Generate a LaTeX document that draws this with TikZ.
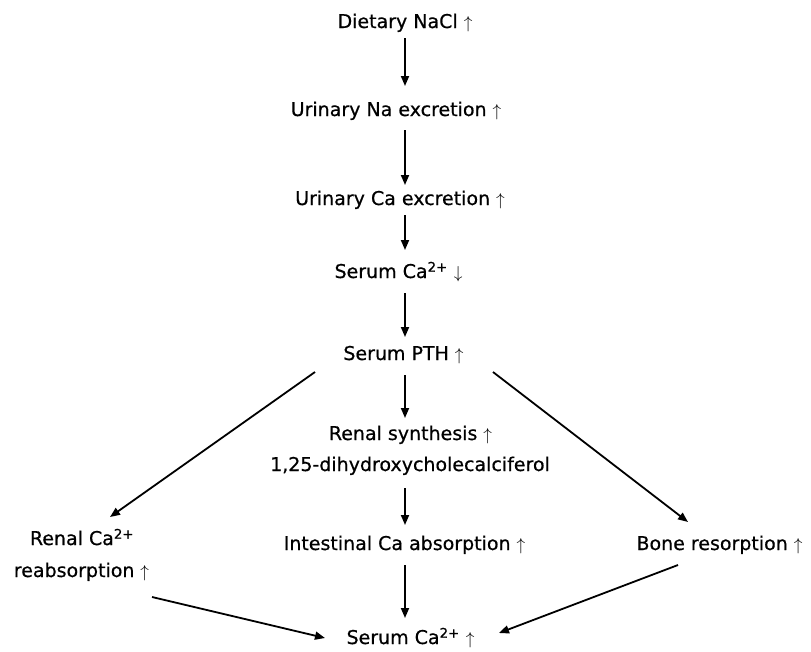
\documentclass[tikz,border=0pt]{standalone}
\usepackage{fontspec}
\setmainfont{DejaVu Sans}[FakeBold=0.6]
\usetikzlibrary{arrows.meta,calc}
\begin{document}
\begin{tikzpicture}[x=1pt,y=-1pt]
\tikzset{
  lbl/.style={inner sep=0pt, anchor=base, font=\fontsize{19}{23}\selectfont},
  arr/.style={line width=1.8pt, -{Triangle[length=10pt,width=8pt]}}
}
\useasboundingbox (0,0) rectangle (811,651);
\coordinate (ax) at (405,0);
\node[lbl] (n1) at (405,28) {Dietary NaCl $\uparrow$};
\node[lbl] (n2) at (396,116) {Urinary Na excretion $\uparrow$};
\node[lbl] (n3) at (400,205) {Urinary Ca excretion $\uparrow$};
\node[lbl] (n4) at (398.5,278) {Serum Ca\textsuperscript{2+} $\downarrow$};
\node[lbl] (n5) at (403.5,360) {Serum PTH $\uparrow$};
\node[lbl] (n6) at (410.5,440) {Renal synthesis $\uparrow$};
\node[lbl] (n7) at (410,471) {1,25-dihydroxycholecalciferol};
\node[lbl] (n8) at (404.5,550) {Intestinal Ca absorption $\uparrow$};
\node[lbl] (n9) at (410.5,644) {Serum Ca\textsuperscript{2+} $\uparrow$};
\node[lbl] (rc1) at (82,545) {Renal Ca\textsuperscript{2+}};
\node[lbl] (rc2) at (81.5,577) {reabsorption $\uparrow$};
\node[lbl] (bone) at (719.5,550) {Bone resorption $\uparrow$};

\draw[arr] ($(n1.base -| ax)+(0,10)$) -- ($(n2.base -| ax)+(0,-30)$);
\draw[arr] ($(n2.base -| ax)+(0,14)$) -- ($(n3.base -| ax)+(0,-20)$);
\draw[arr] ($(n3.base -| ax)+(0,10)$) -- ($(n4.base -| ax)+(0,-28)$);
\draw[arr] ($(n4.base -| ax)+(0,15)$) -- ($(n5.base -| ax)+(0,-23)$);
\draw[arr] ($(n5.base -| ax)+(0,15)$) -- ($(n6.base -| ax)+(0,-22)$);
\draw[arr] ($(n7.base -| ax)+(0,17)$) -- ($(n8.base -| ax)+(0,-25)$);
\draw[arr] ($(n8.base -| ax)+(0,15)$) -- ($(n9.base -| ax)+(0,-26)$);

\draw[arr] ($(n5.base)+(-88.5,12)$) -- ($(rc1.base)+(28,-28)$);
\draw[arr] ($(n5.base)+(89.5,12)$) -- ($(bone.base)+(-31.5,-28)$);
\draw[arr] ($(rc2.base)+(70.5,20)$) -- ($(n9.base)+(-85.5,-6)$);
\draw[arr] ($(bone.base)+(-41.5,15)$) -- ($(n9.base)+(88.5,-11)$);
\end{tikzpicture}
\end{document}
